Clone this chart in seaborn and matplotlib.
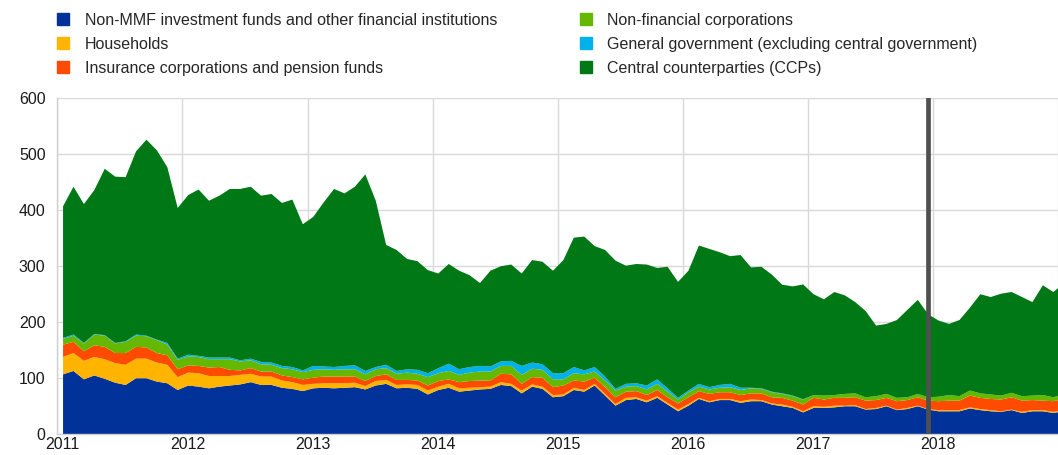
import numpy as np
import pandas as pd
import matplotlib
matplotlib.use("Agg")
import matplotlib.pyplot as plt
import matplotlib.transforms as mtransforms
from matplotlib.lines import Line2D
import seaborn as sns

# Monthly observations, January 2011 onwards (EUR billions)
non_mmf_funds = [108, 114, 99, 106, 100, 93, 89, 101, 101, 95, 92, 80,
                 88, 86, 83, 86, 88, 90, 94, 89, 89, 84, 82, 78,
                 83, 84, 83, 84, 85, 81, 88, 91, 83, 84, 82, 72,
                 80, 84, 77, 79, 81, 82, 89, 87, 74, 86, 82, 67,
                 69, 80, 77, 88, 70, 52, 62, 64, 58, 66, 54, 42,
                 52, 64, 58, 62, 62, 57, 60, 60, 54, 51, 48, 40,
                 48, 48, 49, 51, 51, 45, 46, 51, 44, 46, 51, 45,
                 42, 42, 42, 47, 44, 42, 41, 44, 39, 42, 42, 39,
                 42]
households = [31, 32, 33, 33, 35, 35, 36, 35, 35, 34, 33, 23,
              23, 24, 22, 19, 17, 17, 15, 15, 15, 13, 12, 11,
              8, 8, 9, 8, 8, 6, 8, 7, 6, 6, 7, 7,
              6, 7, 6, 5, 4, 4, 5, 4, 5, 4, 4, 4,
              3, 4, 3, 3, 3, 3, 4, 3, 3, 3, 3, 3,
              3, 2, 2, 2, 2, 3, 3, 2, 2, 3, 2, 2,
              3, 2, 3, 1, 2, 1, 2, 1, 1, 2, 1, 1,
              2, 2, 2, 2, 2, 2, 1, 1, 2, 2, 2, 2,
              2]
insurance_pension = [22, 20, 17, 21, 22, 18, 21, 21, 20, 17, 17, 14,
                     13, 13, 15, 16, 11, 8, 10, 9, 9, 9, 9, 10,
                     11, 12, 12, 12, 11, 9, 9, 10, 9, 8, 8, 9,
                     10, 8, 11, 12, 12, 11, 15, 17, 12, 13, 16, 14,
                     16, 13, 15, 11, 12, 12, 11, 11, 10, 11, 10, 11,
                     12, 12, 13, 12, 12, 11, 11, 12, 11, 12, 11, 12,
                     15, 13, 14, 14, 14, 15, 14, 14, 15, 14, 15, 15,
                     16, 17, 17, 21, 20, 20, 21, 22, 20, 18, 17, 19,
                     20]
non_financial_corps = [10, 11, 14, 19, 20, 17, 20, 20, 20, 23, 19, 17,
                       16, 16, 15, 14, 19, 16, 14, 13, 12, 13, 14, 13,
                       14, 13, 12, 13, 13, 12, 12, 11, 11, 13, 12, 15,
                       14, 15, 13, 15, 16, 16, 14, 15, 16, 15, 14, 14,
                       11, 13, 13, 11, 12, 12, 9, 9, 10, 11, 10, 7,
                       9, 8, 8, 8, 9, 9, 9, 8, 9, 7, 8, 9,
                       5, 7, 5, 7, 7, 6, 7, 7, 6, 5, 6, 6,
                       8, 10, 8, 9, 8, 8, 7, 8, 8, 8, 10, 7,
                       8]
general_government = [2, 2, 1, 1, 1, 1, 1, 2, 1, 1, 3, 2,
                      3, 2, 3, 3, 3, 2, 3, 4, 4, 4, 4, 3,
                      7, 5, 5, 6, 7, 6, 4, 6, 5, 6, 7, 7,
                      9, 13, 10, 10, 10, 9, 8, 9, 16, 11, 10, 11,
                      11, 11, 7, 8, 7, 3, 5, 5, 7, 8, 6, 3,
                      3, 5, 4, 5, 6, 4, 1, 1, 1, 1, 1, 0.5,
                      0, 0, 0, 0, 0, 0, 0, 0, 0, 0, 0, 0,
                      0, 0, 0, 0, 0, 0, 0, 0, 0, 0, 0, 0,
                      0]
ccps = [235, 264, 248, 257, 297, 297, 293, 327, 350, 338, 314, 269,
        285, 297, 280, 289, 301, 306, 307, 297, 301, 291, 299, 261,
        266, 293, 318, 308, 319, 351, 297, 214, 216, 197, 194, 184,
        169, 178, 176, 164, 148, 171, 170, 172, 165, 183, 183, 183,
        202, 231, 239, 216, 226, 229, 211, 213, 216, 199, 217, 207,
        214, 247, 247, 237, 228, 237, 215, 217, 209, 194, 195, 205,
        180, 172, 184, 176, 163, 154, 126, 125, 139, 156, 168, 148,
        136, 127, 136, 148, 177, 174, 182, 180, 177, 167, 196, 188,
        198]

series_labels = [
    "Non-MMF investment funds and other financial institutions",
    "Households",
    "Insurance corporations and pension funds",
    "Non-financial corporations",
    "General government (excluding central government)",
    "Central counterparties (CCPs)",
]
series_colors = ["#003299", "#FFB400", "#FF4B00", "#65B800", "#00B1EA", "#007816"]

year_ticks = list(range(2011, 2020))
y_ticks = [0, 100, 200, 300, 400, 500, 600]
marker_date = 2017 + 11.5 / 12  # December 2017

dates = pd.date_range("2011-01-01", periods=len(ccps), freq="MS")
x = dates.year + (dates.month - 0.5) / 12.0

sns.set_theme(style="whitegrid")
plt.rcParams["font.family"] = ["Liberation Sans", "DejaVu Sans"]

fig = plt.figure(figsize=(10.58, 4.55), dpi=100)
ax = fig.add_axes([0.0542, 0.0455, 0.9458, 0.7385])

stack = [non_mmf_funds, households, insurance_pension,
         non_financial_corps, general_government, ccps]
ax.stackplot(x, *stack, colors=series_colors, linewidth=0, zorder=2)

ax.axvline(marker_date, color="#505050", lw=3.4, zorder=3)

ax.set_xlim(2011, 2019)
ax.set_ylim(0, 600)
ax.set_xticks(year_ticks)
ax.set_xticklabels([str(y) if y < 2019 else "" for y in year_ticks])
ax.set_yticks(y_ticks)
ax.grid(True, color="#d9d9d9", lw=1.0, zorder=0)
ax.set_axisbelow(True)
for side in ["top", "right"]:
    ax.spines[side].set_visible(False)
for side in ["left", "bottom"]:
    ax.spines[side].set_color("#d0d0d0")
    ax.spines[side].set_linewidth(1.0)
ax.tick_params(axis="both", length=0, labelsize=11.5, colors="#1a1a1a")
ax.tick_params(axis="y", pad=8.5)
ax.tick_params(axis="x", pad=2)

# shift year labels slightly to the right of their gridlines
offset = mtransforms.ScaledTranslation(5 / 100, 0, fig.dpi_scale_trans)
for lbl in ax.get_xticklabels():
    lbl.set_transform(lbl.get_transform() + offset)

handles = [Line2D([0], [0], marker="s", linestyle="none", markersize=9,
                  markerfacecolor=c, markeredgecolor=c) for c in series_colors]
leg_kw = dict(frameon=False, fontsize=11.5, handlelength=0.8, handletextpad=0.95,
              labelspacing=0.56, borderaxespad=0, borderpad=0,
              loc="upper left")
fig.legend(handles[:3], series_labels[:3], bbox_to_anchor=(0.0538, 0.972), **leg_kw)
fig.legend(handles[3:], series_labels[3:], bbox_to_anchor=(0.5477, 0.972), **leg_kw)

fig.savefig("out.png", dpi=100)
